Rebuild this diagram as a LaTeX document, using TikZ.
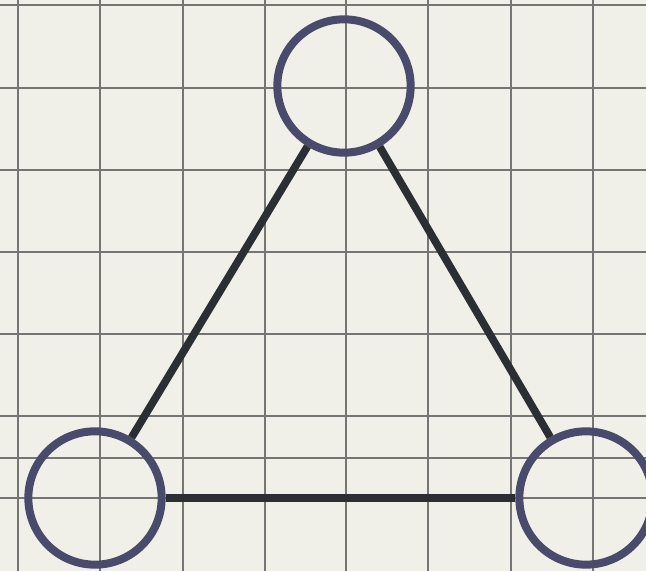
\documentclass[tikz,border=0pt]{standalone}
\begin{document}
\begin{tikzpicture}[x=0.75pt,y=-0.75pt,
  vertex/.style={circle,draw=nodecol,line width=6pt,minimum size=100pt,inner sep=0pt},
  edge/.style={draw=edgecol,line width=5.8pt},
  gridline/.style={draw=gridcol,line width=1.4pt}]
\definecolor{paper}{HTML}{F0F0E8}
\definecolor{gridcol}{HTML}{757573}
\definecolor{nodecol}{HTML}{4A4A6C}
\definecolor{edgecol}{HTML}{2B2E33}
\useasboundingbox (0,0) rectangle (646,571);
\clip (0,0) rectangle (646,571);
\fill[paper] (0,0) rectangle (646,571);
\foreach \x in {18,100,183,265,346,428,511,593}
  \draw[gridline] (\x,0) -- (\x,571);
\foreach \y in {5,88,170,252,334,416,498}
  \draw[gridline] (0,\y) -- (646,\y);
\draw[gridline,line width=2pt] (0,458) -- (646,458);
\node[vertex] (t) at (344,86) {};
\node[vertex] (l) at (95,498) {};
\node[vertex] (r) at (586,498) {};
\draw[edge] (t) -- (l);
\draw[edge] (t) -- (r);
\draw[edge] (l) -- (r);
\end{tikzpicture}
\end{document}
